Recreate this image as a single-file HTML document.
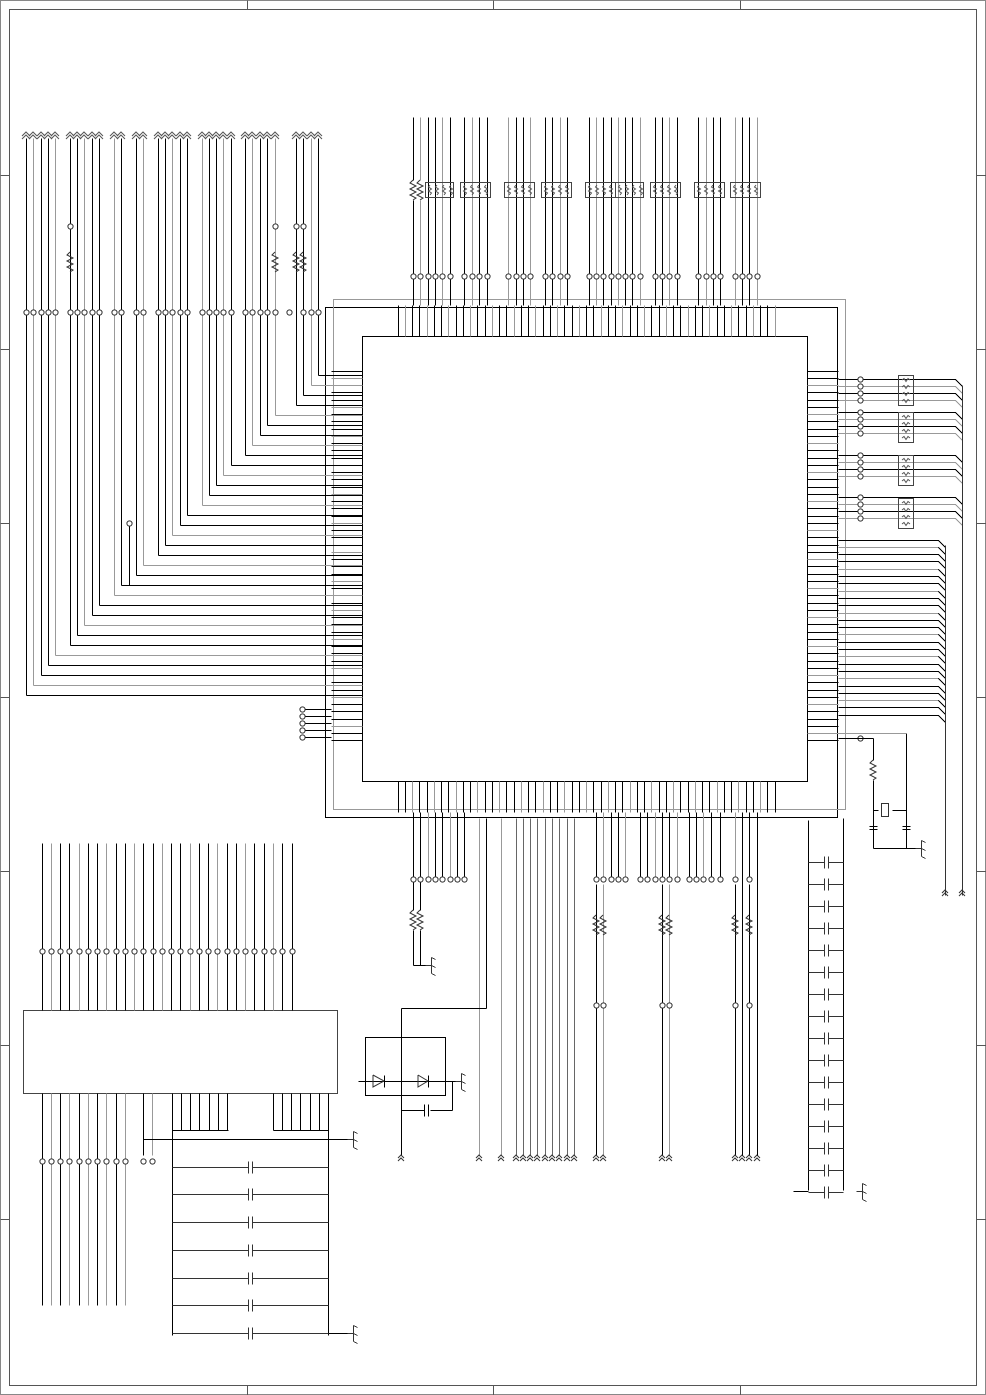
<!DOCTYPE html>
<html><head><meta charset="utf-8"><style>html,body{margin:0;padding:0;background:#fff}svg{display:block}</style></head>
<body>
<svg id="s" width="986" height="1395" viewBox="0 0 986 1395" xmlns="http://www.w3.org/2000/svg" fill="none" stroke-width="1" shape-rendering="crispEdges">
<rect x="0.5" y="0.5" width="985" height="1394" stroke="#888"/>
<rect x="9.5" y="9.5" width="967" height="1376" stroke="#555"/>
<rect x="362.5" y="336.5" width="445" height="445" stroke="#000"/>
<rect x="325.5" y="307.5" width="512" height="510" stroke="#000"/>
<rect x="333.5" y="299.5" width="512" height="510" stroke="#999"/>
<rect x="23.5" y="1010.5" width="314" height="83" stroke="#444"/>
<rect x="365.5" y="1037.5" width="80" height="58" stroke="#000"/>
</svg>
<script>
var s=document.getElementById('s'),h='';
var G=['#000','#999','#555','#bbb'];
function L(a,b,c,d,k){h+='<line x1="'+(a+.5)+'" y1="'+(b+.5)+'" x2="'+(c+.5)+'" y2="'+(d+.5)+'" stroke="'+(k||'#000')+'"/>';}
function P(p,k){h+='<polyline points="'+p+'" stroke="'+(k||'#000')+'" shape-rendering="auto"/>';}
function C(x,y){h+='<circle cx="'+(x+.5)+'" cy="'+(y+.5)+'" r="2.6" stroke="#333" fill="#fff" shape-rendering="auto"/>';}
function RV(x,y,n){var p=x+','+y;for(var i=1;i<=6;i++)p+=' '+(x+(i%2?-3:3))+','+(y+i*3);p+=' '+x+','+(y+20);P(p,'#333');}
function CAPH(x1,x2,y,cx){L(x1,y,cx-2,y,'#333');L(cx+2,y,x2,y,'#333');L(cx-2,y-6,cx-2,y+6,'#333');L(cx+2,y-6,cx+2,y+6,'#333');}
function AU(x,y){P((x-3)+','+(y+3)+' '+x+','+y+' '+(x+3)+','+(y+3),'#333');P((x-3)+','+(y+6)+' '+x+','+(y+3)+' '+(x+3)+','+(y+6),'#333');}
function GND(x,y){L(x,y,x+6,y,'#333');L(x+6,y-8,x+6,y+8,'#333');L(x+6,y-8,x+10,y-6,'#333');L(x+6,y,x+10,y+2,'#333');L(x+6,y+8,x+10,y+10,'#333');}
[247,493,740].forEach(function(x){L(x,0,x,9,'#555');L(x,1385,x,1395,'#555');});
[175,349,523,697,871,1045,1219].forEach(function(y){L(0,y,9,y,'#555');L(976,y,986,y,'#555');});
for(var i=0;i<53;i++){var p=398+i*7.25|0;L(p,305,p,336,G[i%3==1?1:0]);L(p,781,p,812,G[i%3==2?1:0]);}
for(var i=0;i<52;i++){var y=371+i*7.25|0;L(331,y,362,y,G[i%4==1?1:0]);L(807,y,838,y,G[i%4==2?1:0]);}
var T=[413,420,428,435,442,450,464,472,479,487,508,516,523,530,545,552,560,567,589,596,603,611,618,625,632,640,655,662,669,677,698,706,713,720,735,742,749,757];
T.forEach(function(x,i){var k=G[i%3==1?1:0];L(x,117,x,180,k);L(x,200,x,305,k);if(i>1)L(x,180,x,200,k);C(x,276);});
RV(413,180);RV(420,180);
[[425,453],[460,490],[504,534],[541,571],[585,615],[615,643],[650,680],[694,724],[730,760]].forEach(function(r){h+='<rect x="'+(r[0]+.5)+'" y="182.5" width="'+(r[1]-r[0])+'" height="15" stroke="#444"/>';for(var x=r[0]+5;x<r[1];x+=7)P(x+',185 '+(x-1.5)+',187 '+(x+1.5)+',189 '+(x-1.5)+',191 '+(x+1.5)+',193 '+x+',195','#555');});
var LX=[26,33,41,48,55,70,77,84,92,99,114,121,136,143,158,165,172,180,187,202,209,216,223,231,245,252,260,267,275,296,303,311,318];
var n=LX.length;
LX.forEach(function(x,i){var k=G[i%3==1?1:0];var yt=375+(n-1-i)*10;L(x,138,x,yt,k);L(x,yt,362,yt,k);if(i!=29)C(x,312);
P((x-4)+',136 '+x+',132 '+(x+4)+',136','#555');P((x-4)+',139 '+x+',135 '+(x+4)+',139','#555');});
C(289,312);
[70,275,296,303].forEach(function(x){C(x,226);RV(x,252);});
C(129,523);L(129,526,129,585);
for(var i=0;i<5;i++){var y=709+i*7;C(302,y);L(305,y,331,y);}
var RY=[379,386,393,400,412,419,426,433,455,462,469,476,497,504,511,518];
RY.forEach(function(y,i){L(838,y,955,y,G[i%2]);L(955,y,962,y+7,G[i%2]);C(860,y);});
[[375,405],[412,442],[455,485],[498,528]].forEach(function(r){h+='<rect x="898.5" y="'+(r[0]+.5)+'" width="15" height="'+(r[1]-r[0])+'" stroke="#444"/>';for(var y=r[0]+5;y<r[1];y+=7)P('902,'+y+' 904,'+(y-1.5)+' 906,'+(y+1.5)+' 908,'+(y-1.5)+' 910,'+y,'#555');});
for(var i=0;i<25;i++){var y=540+i*7.3|0;L(838,y,938,y,G[i%3==1?1:0]);L(938,y,945,y+7);}
L(945,545,945,895,'#333');L(962,385,962,895,'#333');AU(945,890);AU(962,890);
C(860,738);L(838,738,873,738);L(873,738,873,760);RV(873,760);L(873,780,873,810);h+='<rect x="881.5" y="803.5" width="7" height="13" stroke="#333"/>';L(873,810,878,810);L(892,810,906,810);L(906,810,906,733);L(838,733,906,733,'#999');
L(873,810,873,848);L(906,810,906,848);L(869,826,877,826);L(869,829,877,829);L(902,826,910,826);L(902,829,910,829);L(873,848,918,848);GND(915,848);
L(808,820,808,1190);L(843,818,843,1190);
for(var i=0;i<16;i++)CAPH(808,843,862+i*22,826);
L(793,1191,808,1191);GND(856,1191);
var B1=[413,420,428,435,442,450,457,464];
B1.forEach(function(x,i){L(x,812,x,876,G[i%3==2?1:0]);C(x,879);});
RV(413,910);RV(420,910);L(413,930,413,965);L(420,930,420,965);L(413,965,428,965);GND(425,965);L(413,882,413,910);L(420,882,420,910);
L(479,818,479,1155,'#999');AU(479,1155);
L(486,818,486,1008);L(486,1008,401,1008);L(401,1008,401,1155);AU(401,1155);
L(501,818,501,1155,'#999');AU(501,1155);
for(var x=516;x<=575;x+=7.3){var xx=x|0;L(xx,818,xx,1155,'#666');AU(xx,1155);}
[596,603,611,618,625,640,647,655,662,669,677,689,696,703,711,720,735,749].forEach(function(x,i){L(x,812,x,876,G[i%3==1?1:0]);C(x,879);});
[596,603,662,669,735,742,749,757].forEach(function(x,i){L(x,884,x,1155,G[i%2?1:0]);if(x!=742&&x!=757){RV(x,915);C(x,1005);}AU(x,1155);});
L(742,812,742,1155);L(757,812,757,1155);
L(358,1081,460,1081);P('373,1075 373,1087 384,1081 373,1075','#333');L(384,1075,384,1087);P('418,1075 418,1087 428,1081 418,1075','#333');L(428,1075,428,1087);GND(455,1081);
L(452,1081,452,1110);L(401,1110,424,1110);L(430,1110,452,1110);L(424,1104,424,1116);L(428,1104,428,1116);
for(var i=0;i<28;i++){var x=42+i*9.26|0;L(x,843,x,1010,G[i%3==1?1:0]);C(x,951);}
for(var i=0;i<10;i++){var x=42+i*9.26|0;L(x,1093,x,1305,G[i%2]);C(x,1161);}
C(143,1161);C(152,1161);L(143,1093,143,1155);L(152,1093,152,1155,'#999');L(143,1139,350,1139);GND(347,1139);
[172,181,190,199,209,218,227].forEach(function(x){L(x,1093,x,1130);});
[273,282,291,300,310,319,328].forEach(function(x){L(x,1093,x,1130);});
L(172,1130,228,1130);L(273,1130,328,1130);L(172,1130,172,1335);L(328,1130,328,1335);
[1167,1194,1222,1250,1278,1305,1333].forEach(function(y){CAPH(172,328,y,250);});
L(328,1333,350,1333);GND(347,1333);
s.insertAdjacentHTML('beforeend',h);
</script>
</body></html>
